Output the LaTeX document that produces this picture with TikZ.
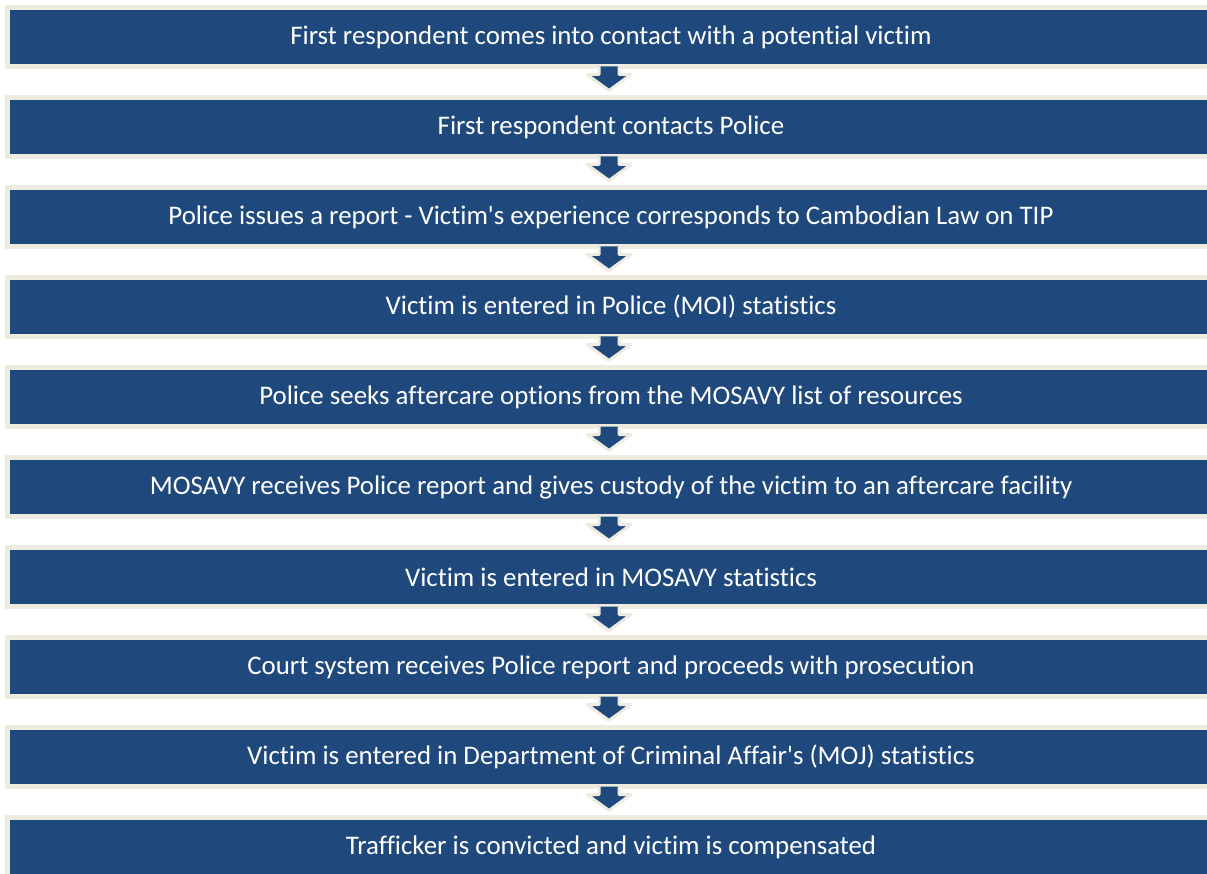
\documentclass[tikz,border=0pt]{standalone}
\usepackage{fontspec}
\setmainfont{Carlito}[Ligatures={NoCommon}]
\usetikzlibrary{calc}
\definecolor{stepblue}{HTML}{1F497D}
\definecolor{rimbeige}{HTML}{EEECE1}
\tikzset{
    stepbox/.style={draw=rimbeige, fill=stepblue, line width=0.125cm, minimum width=30.175cm,
        minimum height=1.475cm, inner sep=0pt, text=white, font=\fontsize{19.1}{22}\selectfont},
    flowarrow/.style={draw=rimbeige, fill=stepblue, line width=0.075cm, line join=round},
}
\begin{document}
\begin{tikzpicture}[x=0.025cm, y=0.025cm]
    \clip (0,0) rectangle (1207,873);
    \foreach \i/\txt in {1/{First respondent comes into contact with a potential victim},
        2/{First respondent contacts Police},
        3/{Police issues a report - Victim\textquotesingle s experience corresponds to Cambodian Law on TIP},
        4/{Victim is entered in Police (MOI) statistics},
        5/{Police seeks aftercare options from the MOSAVY list of resources},
        6/{MOSAVY receives Police report and gives custody of the victim to an aftercare facility},
        7/{Victim is entered in MOSAVY statistics},
        8/{Court system receives Police report and proceeds with prosecution},
        9/{Victim is entered in Department of Criminal Affair\textquotesingle s (MOJ) statistics},
        10/{Trafficker is convicted and victim is compensated}} {
        \node[stepbox] (s\i) at (611,{836-90*(\i-1)}) {\txt};
    };
    \foreach \i [evaluate=\i as \j using int(\i+1)] in {1,...,9} {
        \draw[flowarrow] ($(s\i.south)+(-12,2.5)$) -- ($(s\i.south)+(-12,-5.5)$)
            -- ($(s\i.south)+(-24,-5.5)$) -- ($(s\j.north)+(-2,4.5)$)
            -- ($(s\i.south)+(20,-5.5)$) -- ($(s\i.south)+(8,-5.5)$) -- ($(s\i.south)+(8,2.5)$);
    };
\end{tikzpicture}
\end{document}
